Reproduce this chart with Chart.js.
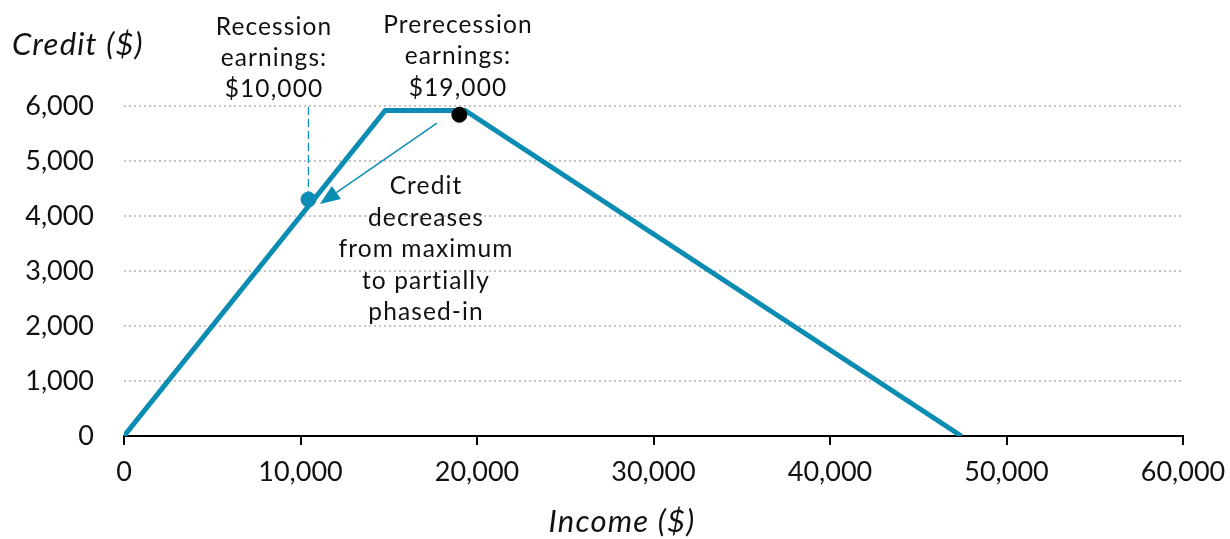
<!DOCTYPE html>
<html>
<head>
<meta charset="utf-8">
<script src="https://cdn.jsdelivr.net/npm/chart.js@4/dist/chart.umd.min.js"></script>
<style>
html,body{margin:0;padding:0;background:#fff;}
#wrap{width:1230px;height:539px;position:relative;}
</style>
</head>
<body>
<div id="wrap"><canvas id="c" width="1230" height="539"></canvas></div>
<script>
const incomeX = [0, 14800, 19330, 47440];
const creditY = [0, 5920, 5920, 0];
const recessionPoint = [10450, 4300];
const prerecessionPoint = [19000, 5840];
const arrowFrom = [17730, 5690];
const arrowTo = [11100, 4220];
const xTicks = [0, 10000, 20000, 30000, 40000, 50000, 60000];
const yTicks = [0, 1000, 2000, 3000, 4000, 5000, 6000];
const recessionLabel = ["Recession", "earnings:", "$10,000"];
const prerecessionLabel = ["Prerecession", "earnings:", "$19,000"];
const noteLabel = ["Credit", "decreases", "from maximum", "to partially", "phased-in"];

const TEAL = '#0b8db3';
const FONT = 'Lato, "Open Sans", sans-serif';
const fmt = v => v.toLocaleString('en-US');

const annot = {
  id: 'annot',
  afterDatasetsDraw(chart) {
    const {ctx, scales: {x, y}} = chart;
    ctx.save();
    // dashed guide line
    ctx.strokeStyle = TEAL; ctx.lineWidth = 1.3; ctx.setLineDash([8, 4]);
    ctx.beginPath();
    ctx.moveTo(x.getPixelForValue(recessionPoint[0]), y.getPixelForValue(6000) + 1);
    ctx.lineTo(x.getPixelForValue(recessionPoint[0]), y.getPixelForValue(recessionPoint[1]) - 6);
    ctx.stroke();
    ctx.setLineDash([]);
    // arrow
    const x1 = x.getPixelForValue(arrowFrom[0]), y1 = y.getPixelForValue(arrowFrom[1]);
    const x2 = x.getPixelForValue(arrowTo[0]), y2 = y.getPixelForValue(arrowTo[1]);
    const ang = Math.atan2(y2 - y1, x2 - x1);
    const hl = 20, hw = 8;
    const bx = x2 - hl * Math.cos(ang), by = y2 - hl * Math.sin(ang);
    ctx.strokeStyle = TEAL; ctx.lineWidth = 1.5;
    ctx.beginPath(); ctx.moveTo(x1, y1); ctx.lineTo(bx, by); ctx.stroke();
    ctx.fillStyle = TEAL;
    ctx.beginPath();
    ctx.moveTo(x2, y2);
    ctx.lineTo(bx + hw * Math.sin(ang), by - hw * Math.cos(ang));
    ctx.lineTo(bx - hw * Math.sin(ang), by + hw * Math.cos(ang));
    ctx.closePath(); ctx.fill();
    // texts
    ctx.fillStyle = '#111';
    ctx.textAlign = 'center'; ctx.textBaseline = 'middle';
    ctx.font = '24.5px ' + FONT;
    ctx.letterSpacing = '1.1px';
    recessionLabel.forEach((t, i) => ctx.fillText(t, 274, 27 + i * 31));
    prerecessionLabel.forEach((t, i) => ctx.fillText(t, 458, 25 + i * 31.5));
    noteLabel.forEach((t, i) => ctx.fillText(t, 426, 186 + i * 31.6));
    // axis titles
    ctx.font = 'italic 31px ' + FONT;
    ctx.letterSpacing = '1.2px';
    ctx.textAlign = 'left';
    ctx.fillText('Credit ($)', 12, 45);
    ctx.textAlign = 'center';
    ctx.fillText('Income ($)', 622, 522);
    ctx.restore();
  }
};

new Chart(document.getElementById('c'), {
  type: 'scatter',
  data: {
    datasets: [
      {
        data: incomeX.map((v, i) => ({x: v, y: creditY[i]})),
        showLine: true, borderColor: TEAL, borderWidth: 5, pointRadius: 0,
        borderJoinStyle: 'miter', order: 3
      },
      {
        data: [{x: recessionPoint[0], y: recessionPoint[1]}],
        pointRadius: 7.5, backgroundColor: TEAL, borderColor: TEAL, order: 1
      },
      {
        data: [{x: prerecessionPoint[0], y: prerecessionPoint[1]}],
        pointRadius: 7.5, backgroundColor: '#000', borderColor: '#000', order: 1
      }
    ]
  },
  options: {
    responsive: false, animation: false, devicePixelRatio: 1,
    layout: {padding: {left: 0, right: 47, top: 106, bottom: 0}},
    plugins: {legend: {display: false}, tooltip: {enabled: false}},
    scales: {
      x: {
        type: 'linear', min: 0, max: 60000,
        afterBuildTicks: s => { s.ticks = xTicks.map(v => ({value: v})); },
        afterFit: s => { s.height = 103; s.paddingRight = 0; s.paddingLeft = 0; },
        ticks: {color: '#111', font: {family: FONT, size: 27}, padding: 11, maxRotation: 0, callback: v => fmt(v)},
        grid: {drawOnChartArea: false, drawTicks: true, tickLength: 9, color: '#000', lineWidth: 2},
        border: {display: true, color: '#000', width: 2}
      },
      y: {
        type: 'linear', min: 0, max: 6000,
        afterBuildTicks: s => { s.ticks = yTicks.map(v => ({value: v})); },
        afterFit: s => { s.width = 124; s.paddingTop = 0; s.paddingBottom = 0; },
        ticks: {color: '#111', font: {family: FONT, size: 27}, padding: 30, callback: v => fmt(v)},
        grid: {drawTicks: false, color: c => c.tick && c.tick.value === 0 ? 'rgba(0,0,0,0)' : '#c4c4c4', lineWidth: 2},
        border: {display: false, dash: [2, 3]}
      }
    }
  },
  plugins: [annot]
});
</script>
</body>
</html>
